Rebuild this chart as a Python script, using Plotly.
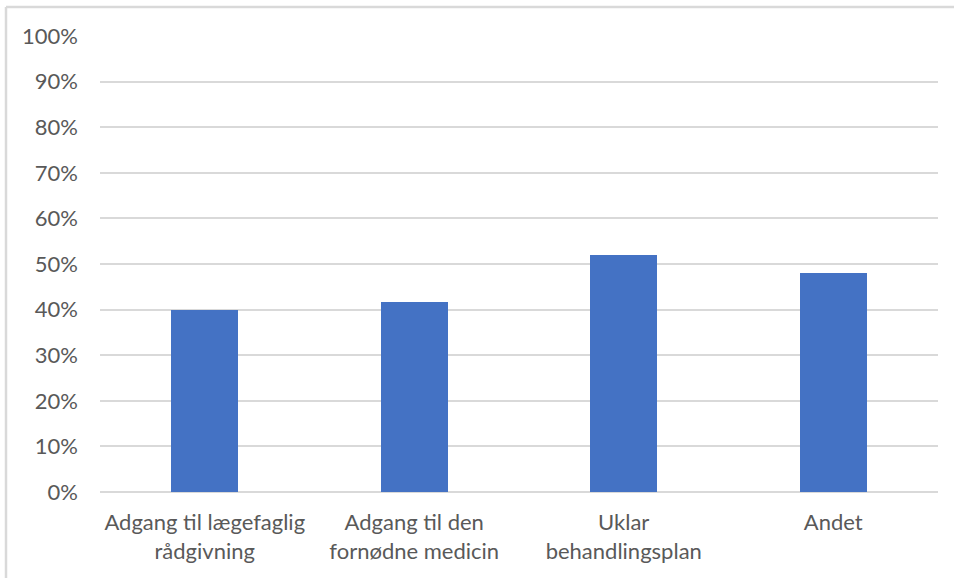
import plotly.graph_objects as go

# Survey categories and share of respondents
categories = [
    "Adgang til lægefaglig<br>rådgivning",
    "Adgang til den<br>fornødne medicin",
    "Uklar<br>behandlingsplan",
    "Andet",
]
shares = [0.40, 0.417, 0.52, 0.48]

y_ticks = [i / 10 for i in range(11)]
y_tick_labels = [f"{i * 10}%" for i in range(11)]

W, H = 954, 578
ML, MR, MT, MB = 100, 16, 36, 86

text_color = "#595959"
grid_color = "#D9D9D9"
font_family = "Lato, 'Open Sans', sans-serif"

fig = go.Figure(
    go.Bar(
        x=categories,
        y=shares,
        marker=dict(color="#4472C4", line=dict(width=0)),
        width=0.318,
        hoverinfo="skip",
    )
)

plot_w = W - ML - MR
plot_h = H - MT - MB

# Outer chart frame (top and left edges)
border_x = (6 - ML) / plot_w
border_y = (H - MB - 7) / plot_h
fig.add_shape(type="line", xref="paper", yref="paper",
              x0=border_x, x1=1 + MR / plot_w + 0.01, y0=border_y, y1=border_y,
              line=dict(color=grid_color, width=2.5))
fig.add_shape(type="line", xref="paper", yref="paper",
              x0=border_x, x1=border_x, y0=border_y, y1=-MB / plot_h - 0.01,
              line=dict(color=grid_color, width=2.5))

fig.update_layout(
    width=W,
    height=H,
    margin=dict(l=ML, r=MR, t=MT, b=MB, pad=0),
    paper_bgcolor="white",
    plot_bgcolor="white",
    showlegend=False,
    font=dict(family=font_family, color=text_color, size=22),
    bargap=0,
)

fig.update_xaxes(
    showgrid=False,
    showline=False,
    ticks="",
    tickfont=dict(size=22, color=text_color),
    ticklabelstandoff=15,
)
fig.update_yaxes(
    range=[0, 1.0],
    tickvals=y_ticks,
    ticktext=y_tick_labels,
    showgrid=True,
    gridcolor=grid_color,
    gridwidth=1.5,
    zeroline=True,
    zerolinecolor=grid_color,
    zerolinewidth=1.5,
    showline=False,
    ticks="",
    tickfont=dict(size=22, color=text_color),
    ticklabelstandoff=21,
)

fig.write_html("out.html")
